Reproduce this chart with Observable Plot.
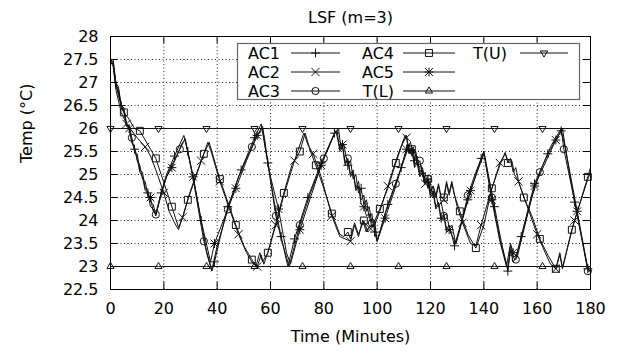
<!DOCTYPE html>
<html><head><meta charset="utf-8">
<script src="https://cdn.jsdelivr.net/npm/d3@7"></script>
<script src="https://cdn.jsdelivr.net/npm/@observablehq/plot@0.6"></script>
<style>body{margin:0;background:#fff} svg{font-family:"DejaVu Sans";}</style>
</head><body><div id="chart"></div>
<script>
const title = "LSF (m=3)";
const xLabel = "Time (Minutes)";
const yLabel = "Temp (°C)";
const xTicks = [0,20,40,60,80,100,120,140,160,180];
const yTicks = [22.5,23,23.5,24,24.5,25,25.5,26,26.5,27,27.5,28];
const seriesNames = ["AC1","AC2","AC3","AC4","AC5","T(L)","T(U)"];

const ac1 = [[0,27.5],[1,27.45],[2,26.95],[3,26.85],[4,26.5],[5,26.4],[6,26.05],[7,26.0],[8,25.7],[9,25.55],[10,25.35],[11,25.05],[12,24.95],[13,24.65],[14,24.6],[15,24.3],[16,24.25],[17,24.1],[19,24.6],[21,25.0],[24,25.4],[27.5,25.85],[29,25.5],[31,24.95],[34,24.0],[36,23.3],[38,22.9],[39,23.1],[41,23.6],[44,24.3],[49,25.1],[54,25.8],[56.5,26.1],[59,25.25],[62,24.2],[64,23.65],[66.5,23.0],[69,23.6],[74,24.5],[79,25.25],[84,25.9],[85.5,26.0],[86.5,25.55],[87.5,25.65],[89,25.2],[90,25.3],[91,24.9],[92,25.0],[93,24.6],[94,24.7],[95,24.35],[96,24.45],[97,24.05],[98,24.15],[99,23.75],[100,23.55],[104,24.35],[109,25.15],[111.5,25.65],[112.5,25.45],[113.5,25.6],[114,25.3],[115,25.4],[116,25.05],[117,25.15],[118,24.8],[119,24.9],[120,24.55],[121,24.65],[122,24.3],[123,24.4],[124,24.05],[125,24.15],[126,23.8],[127,23.9],[129,23.45],[132,24.05],[134,24.45],[139,25.35],[140,25.5],[144,24.3],[146.5,23.55],[149,22.9],[150,23.35],[151,23.1],[152,23.2],[154,23.65],[159,24.8],[164,25.45],[169,25.95],[170.5,25.6],[174,24.4],[179,22.95],[180,22.9]];
const ac1Marks = [4,9,14,19,24,29,34,39,44,49,54,59,64,69,74,79,84,89,94,99,104,109,114,119,124,129,134,139,144,149,154,159,164,169,174,179];

const ac2 = [[0,27.45],[1,27.35],[2,26.85],[3,26.6],[4,26.35],[6,26.1],[8,25.95],[10,25.8],[13,25.6],[15,25.4],[17,25.1],[20,24.6],[22,24.2],[24,23.95],[25.5,23.8],[27,24.07],[30,24.65],[34,25.3],[36.5,25.7],[38,25.45],[41,24.85],[44,24.35],[48,23.7],[51,23.3],[53,23.1],[55,23.0],[56.5,23.25],[57.5,23.05],[59,23.3],[62,23.9],[65,24.55],[69,25.3],[72.5,25.9],[74,25.65],[76,25.45],[79,24.95],[83,24.1],[86,23.65],[88,23.6],[90,23.55],[91.5,23.9],[93,23.65],[94.5,24.0],[96,23.75],[97,23.85],[99,23.9],[101,24.2],[104,24.75],[107,25.3],[110.5,25.85],[111,25.8],[112,25.45],[113,25.6],[114,25.15],[115,25.25],[116,24.95],[117,25.05],[118,24.8],[119,24.9],[120,24.6],[121,24.75],[122,24.5],[123,24.75],[124,24.5],[125,24.45],[126,24.8],[127,24.55],[128,24.8],[130,24.3],[132,23.95],[135,23.5],[137,23.45],[139,23.9],[142,24.5],[146,25.25],[148,25.45],[149.5,25.25],[150.5,25.3],[151.5,25.0],[153,24.85],[156,24.35],[160,23.7],[163,23.3],[165,23.05],[167,22.95],[168.5,23.25],[169.5,22.95],[172,23.55],[174,24.0],[179,24.9],[180,25.05]];
const ac2Marks = [6,13,20,27,34,41,48,55,62,69,76,83,90,97,104,111,118,125,132,139,146,153,160,167,174];

const ac3 = [[0,27.5],[1,27.5],[2,27.0],[3,26.9],[4,26.5],[5,26.45],[6,26.1],[7,26.05],[8,25.8],[9,25.5],[10,25.45],[11,25.1],[12,25.05],[13,24.7],[14,24.65],[15,24.4],[16,24.35],[17,24.13],[19,24.55],[21,24.95],[23,25.2],[26,25.55],[28,25.78],[31,24.9],[35,23.55],[38,22.92],[40,23.45],[44,24.24],[48,24.95],[53,25.6],[55,25.85],[57,26.05],[58,25.7],[59,25.25],[62,24.1],[64,23.6],[67,23.0],[71,23.9],[75,24.6],[80,25.35],[84,25.9],[85,25.96],[86,25.5],[87,25.6],[88,25.2],[89,25.35],[90,25.0],[91,25.1],[92,24.7],[93,24.85],[94,24.45],[95,24.55],[96,24.2],[97,24.3],[98,23.95],[99,24.0],[100,23.55],[103,24.15],[107,24.8],[110,25.3],[112,25.65],[113,25.4],[114,25.55],[115,25.2],[116,25.3],[117,24.95],[118,25.05],[119,24.7],[120,24.8],[121,24.5],[122,24.6],[123,24.3],[124,24.4],[125,24.1],[126,24.15],[127,23.85],[128,23.9],[129.5,23.5],[131,23.8],[134,24.55],[137,25.05],[140,25.5],[143,24.5],[146,23.6],[149,22.95],[150,23.45],[151,23.2],[152,23.15],[155,23.85],[158,24.5],[161,25.05],[165,25.6],[169,26.0],[170,25.55],[175,24.15],[179,22.9],[180,22.9]];
const ac3Marks = [8,17,26,35,44,53,62,71,80,89,98,107,116,125,134,143,152,161,170,179];

const ac4 = [[0,27.5],[1,27.4],[2,27.0],[3,26.7],[5,26.35],[7,26.2],[9,26.0],[11,25.95],[13,25.75],[15,25.55],[17,25.35],[19,25.0],[21,24.65],[23,24.3],[25.5,23.85],[27,24.05],[29,24.45],[32,24.95],[35,25.45],[37,25.7],[41,24.9],[44,24.4],[47,23.9],[50,23.45],[53,23.15],[54.5,23.0],[56,23.3],[57,23.1],[59,23.3],[62,23.95],[65,24.6],[68,25.2],[71,25.5],[73,25.9],[75,25.5],[77,25.2],[80,24.7],[83,24.15],[86,23.7],[87.5,23.65],[89,23.75],[90,23.6],[91.5,23.95],[93,23.7],[95,24.0],[96.5,23.75],[98,23.85],[101,24.25],[104,24.7],[107,25.25],[109,25.6],[111,25.85],[112,25.5],[113,25.55],[114,25.2],[115,25.3],[116,25.0],[117,25.1],[118,24.85],[119,24.9],[120,24.65],[121,24.75],[122,24.55],[123,24.8],[124,24.5],[125,24.5],[126,24.85],[127,24.6],[128,24.85],[129,24.55],[131,24.2],[134,23.7],[137,23.4],[140,23.9],[143,24.7],[146,25.2],[148,25.48],[149,25.25],[150,25.35],[151,25.05],[152,25.15],[153,24.85],[155,24.5],[158,24.1],[161,23.6],[164,23.25],[167,22.95],[168.5,23.3],[169.5,22.98],[173,23.8],[179,24.95],[180,25.15]];
const ac4Marks = [5,11,17,23,29,35,41,47,53,59,65,71,77,83,89,95,101,107,113,119,125,131,137,143,149,155,161,167,173,179];

const ac5 = [[0,27.45],[1,27.4],[2,26.9],[3,26.8],[4,26.45],[5,26.35],[6,26.1],[7,26.0],[8,25.7],[9,25.6],[10,25.3],[11,25.2],[12,24.9],[13,24.85],[14,24.55],[15,24.5],[16,24.2],[17,24.15],[19,24.6],[21,24.95],[23,25.15],[27,25.7],[28,25.75],[31,24.95],[34,24.0],[37.5,23.1],[39,23.5],[43,24.1],[47,24.7],[51,25.3],[55,25.85],[57,26.0],[58,25.6],[60,24.95],[63,24.25],[66,23.3],[67.5,23.05],[71,23.8],[75,24.5],[79,25.2],[84.5,25.95],[86,25.55],[87,25.65],[88,25.25],[89,25.3],[90,24.95],[91,25.05],[92,24.65],[93,24.75],[94,24.35],[95,24.3],[96,24.1],[97,24.15],[98,23.85],[99,23.9],[100,23.55],[103,24.05],[107,24.75],[111,25.55],[112.5,25.7],[113.5,25.45],[114.5,25.5],[115.5,25.15],[116.5,25.2],[117.5,24.85],[119,24.85],[120,24.5],[121,24.6],[122,24.25],[123,24.35],[124,24.0],[125,24.1],[126,23.75],[127,23.8],[129.5,23.5],[135,24.65],[140,25.45],[143,24.45],[146,23.55],[148.5,23.0],[150,23.5],[151,23.3],[152.5,23.2],[159,24.75],[167,25.75],[169.5,26.0],[170.5,25.6],[175,24.2],[179,22.95],[180,22.9]];
const ac5Marks = [7,15,23,31,39,47,55,63,71,79,87,95,103,111,119,127,135,143,151,159,167,175];

const tLower = [[0,23],[18,23],[36,23],[54,23],[72,23],[90,23],[108,23],[126,23],[144,23],[162,23],[180,23]];
const tUpper = [[0,26],[18,26],[36,26],[54,26],[72,26],[90,26],[108,26],[126,26],[144,26],[162,26],[180,26]];
const tMarks = [0,18,36,54,72,90,108,126,144,162];

// ---- rendering ----
const W = 628, H = 353, mL = 110, mR = 38, mT = 36, mB = 64;
const innerW = W - mL - mR, innerH = H - mT - mB;
const ink = "#111";
const symbolSpecs = {
  "AC1": [{symbol: "plus", r: 3}],
  "AC2": [{symbol: "times", r: 3.8}],
  "AC3": [{symbol: "circle", r: 3.6}],
  "AC4": [{symbol: "square", r: 3.9}],
  "AC5": [{symbol: "plus", r: 3}, {symbol: "times", r: 3.6}],
  "T(L)": [{symbol: "triangle2", r: 3.4, rotate: 0}],
  "T(U)": [{symbol: "triangle2", r: 3.4, rotate: 180}]
};
const series = [
  {name: "AC1", data: ac1, marks: ac1Marks},
  {name: "AC2", data: ac2, marks: ac2Marks},
  {name: "AC3", data: ac3, marks: ac3Marks},
  {name: "AC4", data: ac4, marks: ac4Marks},
  {name: "AC5", data: ac5, marks: ac5Marks},
  {name: "T(L)", data: tLower, marks: tMarks},
  {name: "T(U)", data: tUpper, marks: tMarks}
];

const dataMarks = [];
for (const s of series) {
  dataMarks.push(Plot.line(s.data, {x: d => d[0], y: d => d[1], stroke: ink, strokeWidth: 1}));
  const pts = s.data.filter(d => s.marks.includes(d[0]));
  for (const sp of symbolSpecs[s.name]) {
    dataMarks.push(Plot.dot(pts, {x: d => d[0], y: d => d[1], symbol: sp.symbol, r: sp.r,
      rotate: sp.rotate || 0, stroke: ink, fill: "none", strokeWidth: 1}));
  }
}

const innerX = xTicks.filter(d => d > 0 && d < 180);
const innerY = yTicks.filter(d => d > 22.5 && d < 28);

const chart = Plot.plot({
  width: W, height: H, marginLeft: mL, marginRight: mR, marginTop: mT, marginBottom: mB,
  x: {domain: [0, 180]},
  y: {domain: [22.5, 28]},
  style: {fontFamily: "DejaVu Sans", fontSize: "16px", background: "white", color: "black", overflow: "visible"},
  marks: [
    Plot.ruleX(innerX, {x: d => d, stroke: "#222", strokeDasharray: "1,2.5", strokeWidth: 1}),
    Plot.ruleY(innerY, {y: d => d, stroke: "#222", strokeDasharray: "1,2.5", strokeWidth: 1}),
    Plot.tickX(xTicks, {x: d => d, insetTop: innerH - 7, stroke: "black"}),
    Plot.tickX(xTicks, {x: d => d, insetBottom: innerH - 7, stroke: "black"}),
    Plot.tickY(yTicks, {y: d => d, insetRight: innerW - 7, stroke: "black"}),
    Plot.tickY(yTicks, {y: d => d, insetLeft: innerW - 7, stroke: "black"}),
    Plot.axisX(xTicks, {tickSize: 0, tickPadding: 13, label: null, tickFormat: d => String(d), fontSize: 16}),
    Plot.axisY(yTicks, {tickSize: 0, tickPadding: 12, label: null, tickFormat: d => String(d), fontSize: 16}),
    ...dataMarks,
    Plot.frame({stroke: "black", strokeWidth: 1}),
    Plot.text([title], {frameAnchor: "top", dy: -25, fontSize: 16, fill: "black"}),
    Plot.text([xLabel], {frameAnchor: "bottom", dy: 52, fontSize: 16, fill: "black"}),
    Plot.text([yLabel], {frameAnchor: "left", dx: -84, rotate: -90, fontSize: 16, fill: "black"})
  ]
});
document.getElementById("chart").appendChild(chart);

// ---- legend (inside plot, top right) ----
const svg = d3.select(chart);
const lg = svg.append("g").attr("font-family", "DejaVu Sans").attr("font-size", 16);
lg.append("rect").attr("x", 237.5).attr("y", 43.5).attr("width", 342).attr("height", 56)
  .attr("fill", "white").attr("stroke", "#666").attr("stroke-width", 1.2);
const cols = [{tx: 280, l1: 291, l2: 340}, {tx: 394, l1: 403, l2: 455}, {tx: 507, l1: 520, l2: 568}];
const rows = [53, 72, 91];
const d3sym = {plus: d3.symbolPlus, times: d3.symbolTimes, circle: d3.symbolCircle, square: d3.symbolSquare, triangle2: d3.symbolTriangle2};
seriesNames.forEach((name, i) => {
  const c = cols[Math.floor(i / 3)], y = rows[i % 3];
  lg.append("text").attr("x", c.tx).attr("y", y).attr("dy", "0.36em").attr("text-anchor", "end").attr("fill", "black").text(name);
  lg.append("line").attr("x1", c.l1).attr("x2", c.l2).attr("y1", y).attr("y2", y).attr("stroke", ink).attr("stroke-width", 1);
  const mx = (c.l1 + c.l2) / 2;
  for (const sp of symbolSpecs[name]) {
    lg.append("path").attr("d", d3.symbol(d3sym[sp.symbol], Math.PI * sp.r * sp.r)())
      .attr("transform", `translate(${mx},${y}) rotate(${sp.rotate || 0})`)
      .attr("fill", "none").attr("stroke", ink).attr("stroke-width", 1);
  }
});
</script></body></html>
